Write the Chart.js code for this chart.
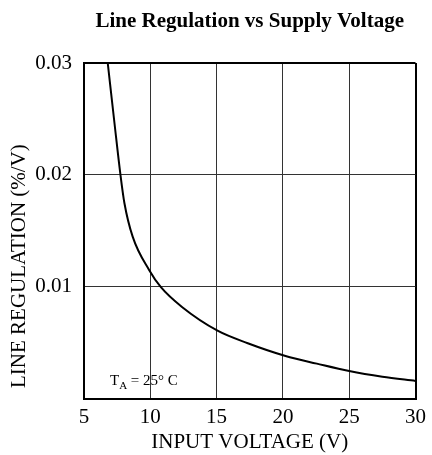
<!DOCTYPE html>
<html>
<head>
<meta charset="utf-8">
<script src="https://cdn.jsdelivr.net/npm/chart.js@4/dist/chart.umd.min.js"></script>
<style>
  html, body { margin: 0; padding: 0; background: #fff; }
  #wrap { width: 432px; height: 455px; position: relative; }
</style>
</head>
<body>
<div id="wrap"><canvas id="c" width="432" height="455"></canvas></div>
<script>
// Data
const inputVoltage = [6.79, 7.31, 7.75, 8.05, 8.67, 9.91, 10.8, 12.39, 15.07, 17.35, 20.2, 22.56, 25.0, 27.5, 30.0];
const lineRegulation = [0.0300, 0.0245, 0.0200, 0.01746, 0.01447, 0.01149, 0.00995, 0.00818, 0.00606, 0.00494, 0.0038, 0.00312, 0.00246, 0.00195, 0.00157];
const xTicks = [5, 10, 15, 20, 25, 30];
const yTicks = [0.01, 0.02, 0.03];

const chartTitle = 'Line Regulation vs Supply Voltage';
const xTitle = 'INPUT VOLTAGE (V)';
const yTitle = 'LINE REGULATION (%/V)';

const FONT = '"Liberation Serif", "Times New Roman", serif';

const annotationPlugin = {
  id: 'taNote',
  afterDraw(chart) {
    const ctx = chart.ctx;
    const a = chart.chartArea;
    ctx.save();
    ctx.fillStyle = '#000';
    ctx.textBaseline = 'alphabetic';
    ctx.textAlign = 'left';
    let x = a.left + 26;
    const y = a.bottom - 14;
    ctx.font = '15px ' + FONT;
    ctx.fillText('T', x, y);
    x += ctx.measureText('T').width;
    ctx.font = '11px ' + FONT;
    ctx.fillText('A', x, y + 4);
    x += ctx.measureText('A').width;
    ctx.font = '15px ' + FONT;
    ctx.fillText(' = 25\u00B0 C', x, y);
    ctx.restore();
  }
};

const edgeColor = (ctx, edgeVals) => edgeVals.includes(ctx.tick && ctx.tick.value) ? '#000' : '#333';
const edgeWidth = (ctx, edgeVals) => edgeVals.includes(ctx.tick && ctx.tick.value) ? 2 : 1;

new Chart(document.getElementById('c'), {
  type: 'line',
  data: {
    datasets: [{
      data: inputVoltage.map((v, i) => ({ x: v, y: lineRegulation[i] })),
      borderColor: '#000',
      borderWidth: 2,
      pointRadius: 0,
      fill: false,
      cubicInterpolationMode: 'monotone'
    }]
  },
  options: {
    responsive: false,
    animation: false,
    devicePixelRatio: 1,
    layout: { padding: { left: 7, right: 12, top: 0, bottom: 0 } },
    plugins: {
      legend: { display: false },
      tooltip: { enabled: false },
      title: {
        display: true,
        text: chartTitle,
        fullSize: false,
        color: '#000',
        font: { family: FONT, size: 21, weight: 'bold' },
        padding: { top: 9.4, bottom: 28.4 }
      }
    },
    scales: {
      x: {
        type: 'linear',
        min: 5,
        max: 30,
        afterFit(scale) { scale.height = 56.5; },
        afterBuildTicks(scale) { scale.ticks = xTicks.map(v => ({ value: v })); },
        border: { display: true, color: '#000', width: 2 },
        grid: {
          drawTicks: false,
          color: (ctx) => edgeColor(ctx, [5, 30]),
          lineWidth: (ctx) => edgeWidth(ctx, [5, 30])
        },
        ticks: {
          color: '#000',
          padding: 6,
          font: { family: FONT, size: 21 },
          callback: (v) => String(v)
        },
        title: {
          display: true,
          text: xTitle,
          color: '#000',
          padding: { top: 0, bottom: 0 },
          font: { family: FONT, size: 21 }
        }
      },
      y: {
        type: 'linear',
        min: 0,
        max: 0.03,
        afterFit(scale) { scale.width = 77; },
        afterBuildTicks(scale) { scale.ticks = [0].concat(yTicks).map(v => ({ value: v })); },
        border: { display: true, color: '#000', width: 2 },
        grid: {
          drawTicks: false,
          color: (ctx) => edgeColor(ctx, [0, 0.03]),
          lineWidth: (ctx) => edgeWidth(ctx, [0, 0.03])
        },
        ticks: {
          color: '#000',
          padding: 12,
          font: { family: FONT, size: 21 },
          callback: (v) => v === 0 ? '' : Number(v).toFixed(2)
        },
        title: {
          display: true,
          text: '  ' + yTitle,
          align: 'start',
          color: '#000',
          padding: { top: 0, bottom: 0 },
          font: { family: FONT, size: 21 }
        }
      }
    }
  },
  plugins: [annotationPlugin]
});
</script>
</body>
</html>
